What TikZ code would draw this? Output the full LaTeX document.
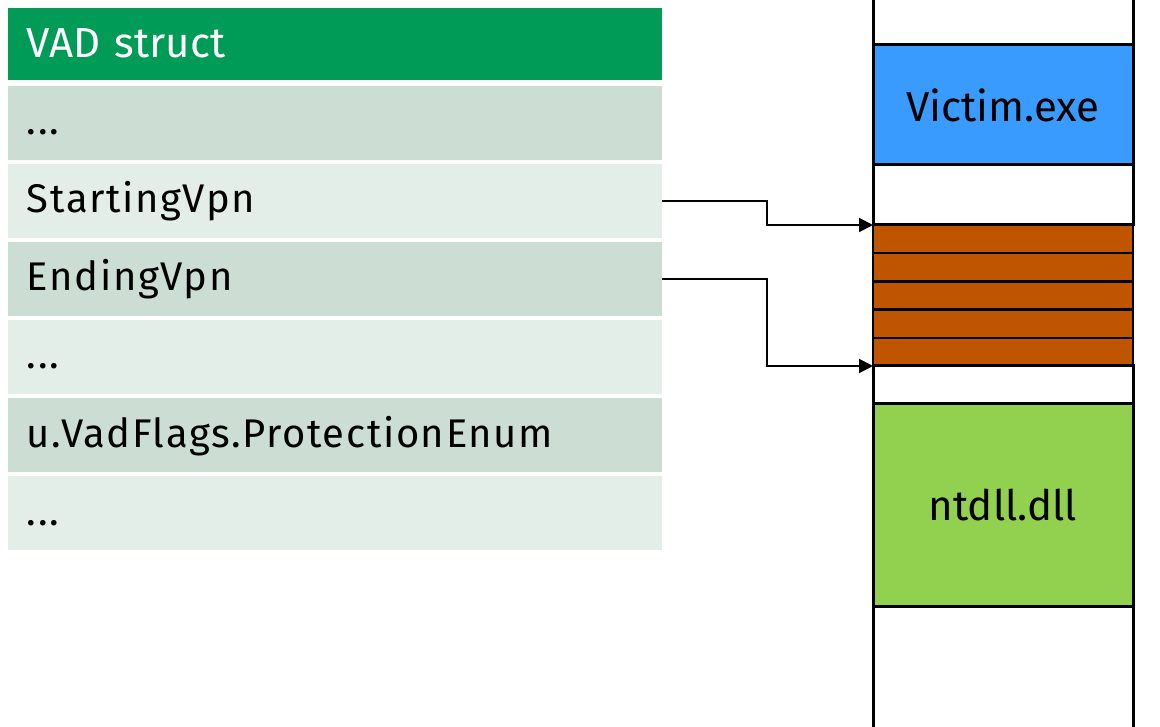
\documentclass[tikz,border=0pt]{standalone}
\usepackage{fontspec}
\setmainfont{Fira Sans}
\usetikzlibrary{arrows.meta}

\begin{document}
\begin{tikzpicture}[
  x=1pt, y=-1pt,
  every node/.style={inner sep=0pt, outer sep=0pt},
  field/.style={anchor=north west, minimum height=74pt, text width=616pt,
    inner xsep=19pt, align=left, text height=28pt, text depth=4pt,
    font=\fontsize{40}{48}\selectfont\addfontfeature{LetterSpace=4}},
  header/.style={field, minimum height=72pt, fill=colorHdr, text=white,
    text height=30pt, text depth=2pt, font=\fontsize{42}{50}\selectfont},
  cell/.style={draw, line width=3pt, anchor=north west, minimum width=260pt,
    font=\fontsize{42}{50}\selectfont},
]
%-------------------------------------------------------------
% Custom colors
\definecolor{colorHdr}{RGB}{0,155,87}
\definecolor{colorDark}{RGB}{204,222,211}
\definecolor{colorLight}{RGB}{228,238,233}
\definecolor{colorExe}{RGB}{58,155,255}
\definecolor{colorPage}{RGB}{192,85,0}
\definecolor{colorDll}{RGB}{146,208,80}

\tikzset{ptr/.style={draw,-{Triangle[length=14pt,width=14pt]},line width=2pt}}

\fill[white] (0,0) rectangle (1160,727);
\useasboundingbox (0,0) rectangle (1160,727);
\clip (0,0) rectangle (1160,727);

%-------------------------------------------------------------
% VAD struct fields
\node[header] (hdr) at (8,8) {VAD struct};
\node[field, fill=colorDark]  (f1) at (8,86)  {...};
\node[field, fill=colorLight] (f2) at (8,164) {StartingVpn};
\node[field, fill=colorDark]  (f3) at (8,242) {EndingVpn};
\node[field, fill=colorLight] (f4) at (8,320) {...};
\node[field, fill=colorDark]  (f5) at (8,398) {u.VadFlags.ProtectionEnum};
\node[field, fill=colorLight] (f6) at (8,476) {...};

%============================================================
% Address space column
\node[cell, minimum height=60pt] (top) at (873,-15) {};
\node[cell, minimum height=120pt, fill=colorExe] (exe) at (873,45) {Victim.exe};
\node[cell, minimum height=60pt] (gap1) at (873,165) {};
\foreach \i in {1,...,5}
  \node[cell, line width=2.5pt, minimum height=28.2pt, fill=colorPage]
    (p\i) at (873,{225+28.2*(\i-1)}) {};
\node[cell, minimum height=38pt] (gap2) at (873,366) {};
\node[cell, minimum height=202pt, fill=colorDll] (dll) at (873,404) {ntdll.dll};
\node[cell, minimum height=140pt] (bot) at (873,606) {};

%---------------------------------------------------
% Pointers into the pages
\draw[ptr] (f2.east) -- ++(105,0) |- (p1.north west);
\draw[ptr] (f3.east) -- ++(105,0) |- (p5.south west);

\end{tikzpicture}
\end{document}
